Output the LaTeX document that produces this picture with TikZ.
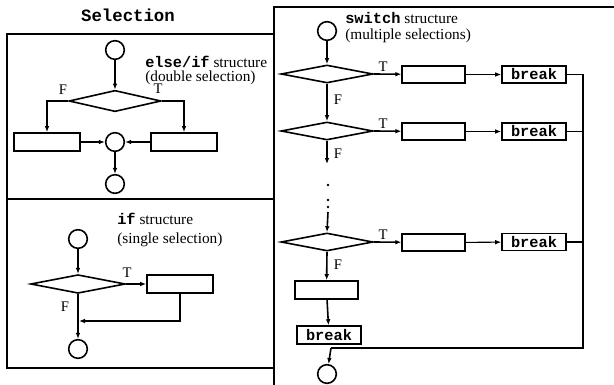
\documentclass[tikz,border=0pt]{standalone}
\usepackage{fontspec}
\setmainfont{Liberation Serif}
\setmonofont{Liberation Mono}
\usetikzlibrary{shapes.geometric,arrows.meta}

\tikzset{
  term/.style={circle, draw, line width=1.2pt, minimum size=14pt, inner sep=0pt},
  proc/.style={rectangle, draw, line width=1.2pt, minimum width=49.5pt, minimum height=13.5pt, inner sep=0pt},
  test/.style={diamond, draw, line width=1.2pt, minimum width=69pt, minimum height=14pt, inner sep=0pt},
  brk/.style={rectangle, draw, line width=1.2pt, minimum width=48pt, minimum height=12.5pt, inner sep=0pt, font=\fontsize{11.5}{12}\selectfont\ttfamily\bfseries},
  flow/.style={line width=1.2pt, -{Latex[length=4.5pt,width=3.5pt]}},
  link/.style={line width=1.2pt},
  tf/.style={font=\fontsize{11}{12}\selectfont, inner sep=0pt},
  frame/.style={line width=1.4pt},
  note/.style={align=left, anchor=west, inner sep=0pt, font=\fontsize{11.5}{12}\selectfont}
}

\begin{document}
\begin{tikzpicture}[x=0.75pt,y=-0.75pt]
    \useasboundingbox (0,0) rectangle (614,385);
    % frames
    \draw[frame] (7,34) rectangle (274,199);
    \draw[frame] (7,199) rectangle (274,368);
    \draw[frame] (274,385) -- (274,7) -- (614,7);
    \node[font=\fontsize{13}{14}\selectfont\ttfamily\bfseries] (title) at (128,15) {Selection};

    % else/if
    \node[note] (n1) at (145,70) {\texttt{\textbf{else/if}} structure\\[-1.5pt](double selection)};
    \node[term] (s1) at (115,50) {};
    \node[test, minimum height=16pt] (d1) at (115,101) {};
    \node[proc] (p1f) at (47,142) {};
    \node[proc] (p1t) at (184,142) {};
    \node[term] (m1) at (115,142) {};
    \node[term] (e1) at (115,184) {};
    \node[tf] (f1) at (63,90) {F};
    \node[tf] (t1) at (158,89) {T};
    \draw[flow] (s1) -- (d1.north);
    \draw[flow] (d1.west) -| (p1f.north);
    \draw[flow] (d1.east) -| (p1t.north);
    \draw[flow] (p1f) -- (m1);
    \draw[flow] (p1t) -- (m1);
    \draw[flow] (m1) -- (e1);

    % if
    \node[note] (n2) at (117,230) {\texttt{\textbf{if}} structure\\[2pt](single selection)};
    \node[term] (s2) at (78,239) {};
    \node[test, minimum width=71pt] (d2) at (78,284) {};
    \node[proc] (p2) at (180,284) {};
    \node[term] (e2) at (78,349) {};
    \node[tf] (t2) at (127,273) {T};
    \node[tf] (f2) at (65,307) {F};
    \coordinate (j2) at (79,321);
    \draw[flow] (s2) -- (d2.north);
    \draw[flow] (d2.east) -- (p2);
    \draw[flow] (p2.south) |- (j2);
    \draw[flow] (d2.south) -- (e2);

    % switch
    \node[note] (n3) at (345,28) {\texttt{\textbf{switch}} structure\\[0pt](multiple selections)};
    \node[term] (s3) at (327,31) {};
    \node[test, minimum height=13.5pt] (d3a) at (327,74) {};
    \node[test, minimum height=13.5pt] (d3b) at (327,131) {};
    \node[test, minimum height=13.5pt] (d3c) at (327,242) {};
    \node[proc, minimum width=47pt, minimum height=13pt] (p3a) at (433.5,74.5) {};
    \node[proc, minimum width=47pt, minimum height=13pt] (p3b) at (433.5,131.5) {};
    \node[proc, minimum width=47pt, minimum height=13pt] (p3c) at (433.5,242.5) {};
    \node[proc, minimum width=47pt] (p3d) at (326.5,290) {};
    \node[brk] (b3a) at (534,74.5) {break};
    \node[brk] (b3b) at (534,131.5) {break};
    \node[brk] (b3c) at (534,242) {break};
    \node[brk, minimum height=13.5pt] (b3d) at (329,335) {break};
    \node[term] (e3) at (327,374) {};
    \node[tf] (t3a) at (383,67) {T};
    \node[tf] (t3b) at (383,124) {T};
    \node[tf] (t3c) at (383,235) {T};
    \node[tf] (f3a) at (338,100) {F};
    \node[tf] (f3b) at (338,154) {F};
    \node[tf] (f3c) at (338,265) {F};
    \coordinate (cut) at (327,164);
    \coordinate (dot) at (328,212);
    \coordinate (jn) at (583,348);
    \coordinate (jb) at (331,348);
    \foreach \y in {185,200,207} \fill (328,\y) circle (1.1pt);
    \draw[flow] (s3) -- (d3a.north);
    \draw[flow] (d3a.south) -- (d3b.north);
    \draw[flow] (d3b.south) -- (cut);
    \draw[flow] (dot) -- (d3c.north);
    \draw[flow] (d3c.south) -- (p3d);
    \draw[flow] (p3d) -- (b3d);
    \foreach \r in {a,b,c} {
      \draw[flow] (d3\r.east) -- (p3\r);
      \draw[flow, line width=0.8pt] (p3\r) -- (b3\r);
    }
    \draw[link] (b3a.east) -| (jn) -- (jb);
    \draw[link] (b3b.east) -- (b3b.east -| jn);
    \draw[link] (b3c.east) -- (b3c.east -| jn);
    \draw[flow] (jb) -- (e3);
\end{tikzpicture}
\end{document}
